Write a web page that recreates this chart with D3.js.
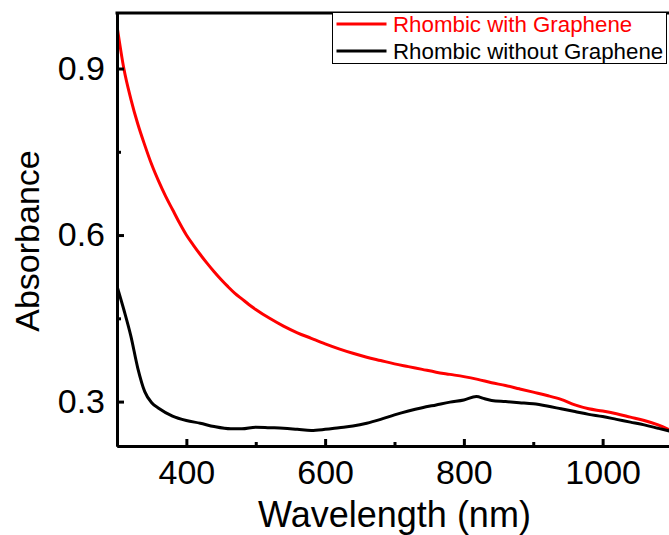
<!DOCTYPE html>
<html>
<head>
<meta charset="utf-8">
<script src="https://cdn.jsdelivr.net/npm/d3@7"></script>
<style>
  body { margin: 0; background: #fff; }
  svg { display: block; font-family: "Liberation Sans", Arial, sans-serif; }
</style>
</head>
<body>
<div id="graphicContainer"></div>
<script>

// wavelength (nm) and absorbance
const wavelengthRed = [300, 310, 320, 330, 340, 350, 360, 370, 380, 390, 400, 410, 420, 430, 440, 450, 460, 470, 480, 490, 500, 520, 540, 560, 580, 600, 620, 640, 660, 680, 700, 720, 740, 760, 780, 800, 820, 840, 860, 880, 900, 920, 940, 960, 980, 1000, 1020, 1040, 1060, 1080, 1100]
const absWithGraphene = [0.977, 0.899, 0.845, 0.800, 0.762, 0.727, 0.697, 0.670, 0.646, 0.622, 0.600, 0.582, 0.565, 0.549, 0.534, 0.520, 0.507, 0.495, 0.485, 0.475, 0.466, 0.450, 0.436, 0.424, 0.414, 0.404, 0.395, 0.387, 0.380, 0.374, 0.368, 0.363, 0.358, 0.353, 0.349, 0.345, 0.340, 0.334, 0.329, 0.323, 0.317, 0.311, 0.304, 0.294, 0.287, 0.283, 0.278, 0.272, 0.266, 0.258, 0.247]

const wavelengthBlack = [300, 310, 320, 330, 340, 350, 360, 380, 400, 420, 440, 464, 480, 500, 520, 540, 560, 580, 600, 620, 640, 660, 680, 700, 720, 740, 760, 780, 800, 818, 830, 840, 860, 880, 900, 920, 940, 960, 980, 1000, 1020, 1040, 1060, 1080, 1100]
const absWithoutGraphene = [0.508, 0.465, 0.418, 0.360, 0.318, 0.298, 0.288, 0.274, 0.266, 0.261, 0.255, 0.251, 0.251, 0.254, 0.253, 0.252, 0.250, 0.248, 0.250, 0.253, 0.256, 0.261, 0.268, 0.276, 0.283, 0.289, 0.294, 0.299, 0.303, 0.309, 0.305, 0.302, 0.300, 0.298, 0.296, 0.292, 0.287, 0.282, 0.277, 0.273, 0.268, 0.263, 0.258, 0.252, 0.246]

const seriesNames = ["Rhombic with Graphene", "Rhombic without Graphene"]
const seriesColors = ["#ff0000", "#000000"]

const xMajorTicks = [400, 600, 800, 1000]
const xMinorTicks = [500, 700, 900, 1100]
const yMajorTicks = [0.3, 0.6, 0.9]
const yMinorTicks = [0.45, 0.75]

const width = 669
const height = 535
const marginleft = 117
const margintop = 13
const plotW = 555
const plotH = 433

const svg = d3.select("#graphicContainer")
  .append("svg")
  .attr("width", width)
  .attr("height", height)

svg.append("defs")
  .append("clipPath")
  .attr("id", "plotClip")
  .append("rect")
  .attr("width", plotW)
  .attr("height", plotH)

const features = svg.append("g")
  .attr("transform", "translate(" + marginleft + "," + margintop + ")")

const x = d3.scaleLinear().domain([300, 1100]).range([0, plotW])
const y = d3.scaleLinear().domain([0.22, 1.0]).range([plotH, 0])

const series = [
  wavelengthRed.map((w, i) => ({ w: w, v: absWithGraphene[i] })),
  wavelengthBlack.map((w, i) => ({ w: w, v: absWithoutGraphene[i] }))
]

const line = d3.line()
  .x(d => x(d.w))
  .y(d => y(d.v))
  .curve(d3.curveMonotoneX)

features.append("g")
  .attr("clip-path", "url(#plotClip)")
  .selectAll("path")
  .data(series)
  .enter()
  .append("path")
  .attr("d", line)
  .attr("fill", "none")
  .attr("stroke", (d, i) => seriesColors[i])
  .attr("stroke-width", 3)
  .attr("stroke-linejoin", "round")

// axes, ticks pointing inwards
const xAxis = d3.axisBottom(x).tickValues(xMajorTicks).tickSizeInner(-7).tickSizeOuter(0).tickPadding(14).tickFormat(d3.format("d"))
const xMinor = d3.axisBottom(x).tickValues(xMinorTicks).tickSizeInner(-4).tickSizeOuter(0).tickFormat("")
const yAxis = d3.axisLeft(y).tickValues(yMajorTicks).tickSizeInner(-7).tickSizeOuter(0).tickPadding(12).tickFormat(d3.format(".1f"))
const yMinor = d3.axisLeft(y).tickValues(yMinorTicks).tickSizeInner(-4).tickSizeOuter(0).tickFormat("")

features.append("g").attr("class", "x").attr("transform", "translate(0," + plotH + ")").call(xAxis)
features.append("g").attr("class", "x").attr("transform", "translate(0," + plotH + ")").call(xMinor)
features.append("g").attr("class", "y").call(yAxis)
features.append("g").attr("class", "y").call(yMinor)

features.selectAll(".x path, .y path, .x line, .y line")
  .attr("stroke", "#000")
  .attr("stroke-width", 3)

features.selectAll(".x text, .y text")
  .attr("fill", "#000")
  .style("font-size", "34px")
  .style("font-family", "'Liberation Sans', Arial, sans-serif")

// top frame line
features.append("line")
  .attr("x1", -1.5)
  .attr("x2", plotW)
  .attr("y1", 0)
  .attr("y2", 0)
  .attr("stroke", "#000")
  .attr("stroke-width", 3)

svg.append("text")
  .attr("x", marginleft + plotW / 2)
  .attr("y", 527)
  .attr("text-anchor", "middle")
  .style("font-size", "36px")
  .text("Wavelength (nm)")

svg.append("text")
  .attr("transform", "translate(39," + 241 + ") rotate(-90)")
  .attr("text-anchor", "middle")
  .style("font-size", "34px")
  .text("Absorbance")

// legend
const legend = svg.append("g").attr("transform", "translate(332.5,12.5)")

legend.append("rect")
  .attr("width", 334)
  .attr("height", 51)
  .attr("fill", "#fff")
  .attr("stroke", "#000")
  .attr("stroke-width", 1)

seriesNames.forEach((name, i) => {
  const rowY = 11.5 + i * 27
  legend.append("line")
    .attr("x1", 4)
    .attr("x2", 54)
    .attr("y1", rowY)
    .attr("y2", rowY)
    .attr("stroke", seriesColors[i])
    .attr("stroke-width", 3)
  legend.append("text")
    .attr("x", 60.5)
    .attr("y", rowY + 7.5)
    .attr("fill", seriesColors[i])
    .style("font-size", "22.3px")
    .text(name)
})

</script>
</body>
</html>
